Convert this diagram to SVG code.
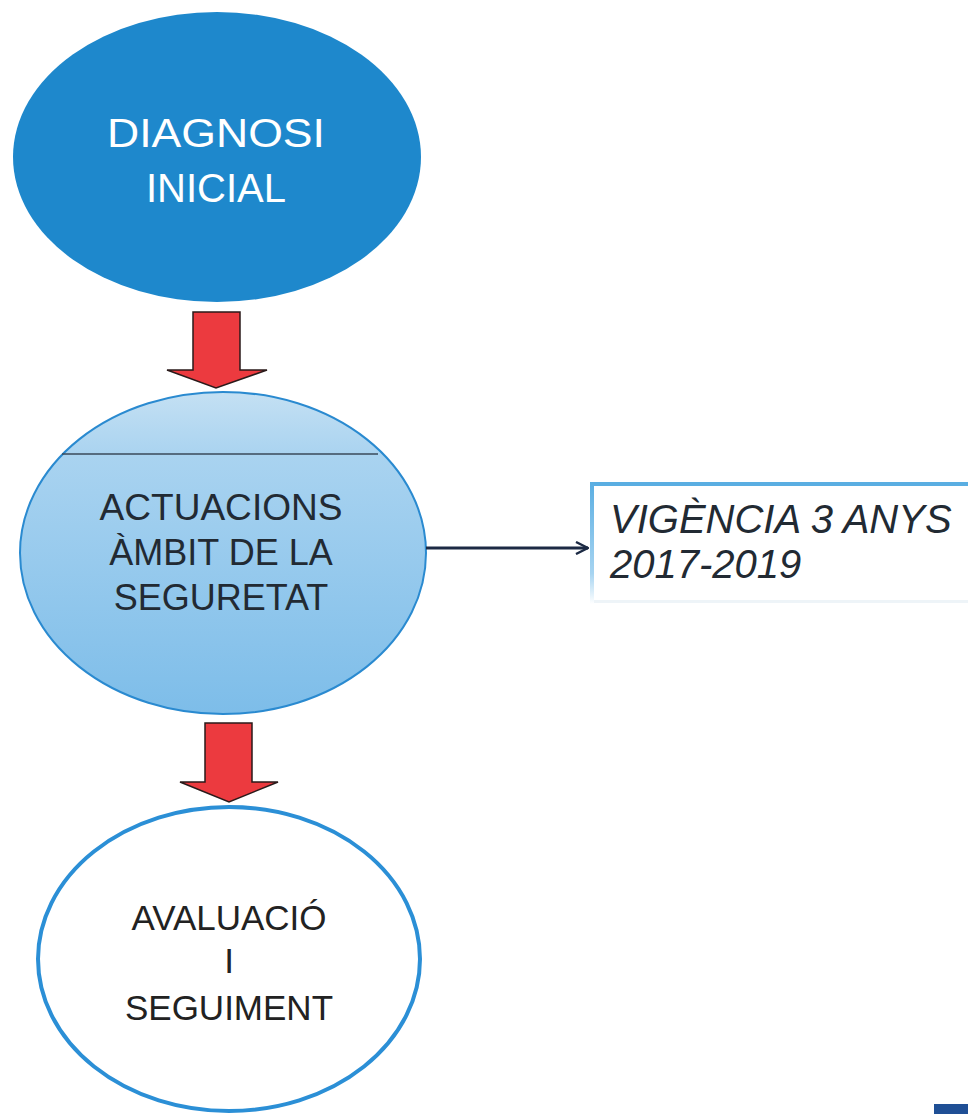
<svg xmlns="http://www.w3.org/2000/svg" width="968" height="1114" viewBox="0 0 968 1114">
<defs>
<linearGradient id="g2" x1="0" y1="0" x2="0" y2="1">
<stop offset="0" stop-color="#c4e0f3"/>
<stop offset="0.2" stop-color="#a9d3f0"/>
<stop offset="1" stop-color="#7dbde9"/>
</linearGradient>
<linearGradient id="gb" x1="0" y1="0" x2="0" y2="1">
<stop offset="0" stop-color="#5aaee2"/>
<stop offset="0.75" stop-color="#a6d4f1"/>
<stop offset="1" stop-color="#ffffff"/>
</linearGradient>
<marker id="ah" viewBox="0 0 14 14" refX="13" refY="7" markerWidth="14" markerHeight="14" markerUnits="userSpaceOnUse" orient="auto">
<path d="M1,1 L13,7 L1,13" fill="none" stroke="#1c2a44" stroke-width="2.4"/>
</marker>
</defs>
<style>
.t{font-family:"Liberation Sans",Arial,sans-serif;text-anchor:middle}
.red{fill:#ec3a3f;stroke:#2a1a1a;stroke-width:1.5;stroke-linejoin:miter}
</style>
<rect width="968" height="1114" fill="#ffffff"/>
<g id="diagnosi">
<ellipse cx="217" cy="157" rx="204" ry="145" fill="#1e88cc"/>
<text class="t" x="216" y="147" font-size="40" fill="#ffffff" textLength="218" lengthAdjust="spacingAndGlyphs">DIAGNOSI</text>
<text class="t" x="216" y="202" font-size="40" fill="#ffffff">INICIAL</text>
</g>
<g id="actuacions">
<ellipse cx="223" cy="553" rx="203" ry="161" fill="url(#g2)" stroke="#2a8ad0" stroke-width="2"/>
<line x1="62" y1="454" x2="378" y2="454" stroke="#3a4a5a" stroke-width="1.5"/>
<text class="t" x="221" y="520" font-size="36" fill="#222a33" textLength="243" lengthAdjust="spacingAndGlyphs">ACTUACIONS</text>
<text class="t" x="221" y="565" font-size="36" fill="#222a33">ÀMBIT DE LA</text>
<text class="t" x="221" y="610" font-size="36" fill="#222a33">SEGURETAT</text>
</g>
<g id="vigencia">
<rect x="590" y="483" width="390" height="120" fill="#ffffff"/>
<rect x="590" y="482" width="378" height="4" fill="#5aaee2"/>
<rect x="590" y="482" width="4" height="122" fill="url(#gb)"/>
<rect x="594" y="600" width="374" height="3" fill="#eef4f8"/>
<text x="610" y="533" font-size="40" font-style="italic" fill="#222a33" font-family="Liberation Sans, Arial, sans-serif">VIGÈNCIA 3 ANYS</text>
<text x="610" y="578" font-size="40" font-style="italic" fill="#222a33" font-family="Liberation Sans, Arial, sans-serif">2017-2019</text>
</g>
<g id="avaluacio">
<ellipse cx="229" cy="959" rx="191" ry="152" fill="#ffffff" stroke="#2b8fd6" stroke-width="4"/>
<text class="t" x="229" y="930" font-size="35" fill="#222222">AVALUACIÓ</text>
<text class="t" x="229" y="973" font-size="35" fill="#222222">I</text>
<text class="t" x="229" y="1020" font-size="35" fill="#222222">SEGUIMENT</text>
</g>
<g id="connectors">
<path class="red" d="M193,312 L240,312 L240,370 L267,370 L216,388 L167,370 L193,370 Z"/>
<path class="red" d="M205,723 L252,723 L252,782 L278,782 L229,802 L180,782 L205,782 Z"/>
<line x1="426" y1="548" x2="588" y2="548" stroke="#1c2a44" stroke-width="3" marker-end="url(#ah)"/>
</g>
<rect x="934" y="1104" width="34" height="10" fill="#1f4f95"/>
</svg>
